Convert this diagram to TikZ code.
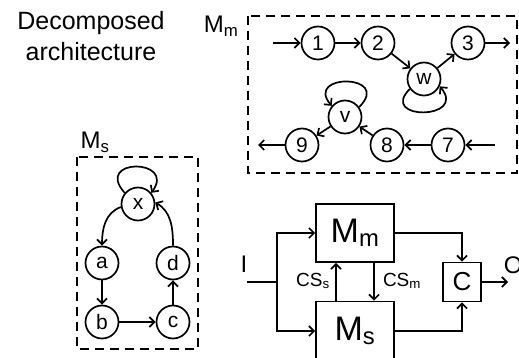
\documentclass[tikz,border=0pt]{standalone}
\usepackage{fontspec}
\setmainfont{Liberation Sans}
\usetikzlibrary{arrows.meta}
\begin{document}
\begin{tikzpicture}[x=1pt,y=1pt,
  line width=1.7pt,
  >={Straight Barb[length=5pt,width=10pt]},
  st/.style={circle,draw,minimum size=33pt,inner sep=0pt,font=\fontsize{21}{21}\selectfont},
  blk/.style={draw,inner sep=0pt},
  dbox/.style={draw,dash pattern=on 9pt off 6pt},
  lab/.style={font=\fontsize{24}{30}\selectfont,inner sep=0pt},
  cs/.style={font=\fontsize{19}{20}\selectfont,inner sep=0pt}]
\useasboundingbox (0,0) rectangle (519,-358);
% title
\node[lab,align=center,font=\fontsize{25}{31}\selectfont] (title) at (91,-36) {Decomposed\\architecture};
% Mm dashed module
\draw[dbox] (248,-16) rectangle (517,-173);
\node[lab] (MmL) at (221,-26) {M\textsubscript{m}};
\node[st] (n1) at (318,-43) {1};
\node[st] (n2) at (378,-43) {2};
\node[st] (w) at (424,-79) {w};
\node[st] (n3) at (468,-43) {3};
\node[st] (v) at (345,-117) {v};
\node[st] (n9) at (302,-145) {9};
\node[st] (n8) at (387,-145) {8};
\node[st] (n7) at (448,-145) {7};
\coordinate (in1) at (273,-43);
\coordinate (out3) at (510,-43);
\coordinate (in7) at (495,-145);
\coordinate (out9) at (258,-145);
\draw[->] (in1) -- (n1);
\draw[->] (n1) -- (n2);
\draw[->] (n2) -- (w);
\draw[->] (w) -- (n3);
\draw[->] (n3) -- (out3);
\draw[->] (in7) -- (n7);
\draw[->] (n7) -- (n8);
\draw[->] (n8) -- (v);
\draw[->] (v) -- (n9);
\draw[->] (n9) -- (out9);
\draw[->] (w.215) .. controls +(225:45) and +(-50:44) .. (w.-25);
\draw[->] (v.35) .. controls +(45:47) and +(130:43) .. (v.140);
% Ms dashed module
\draw[dbox] (77,-157) rectangle (198,-349);
\node[lab] (MsL) at (95,-142) {M\textsubscript{s}};
\node[st] (x) at (138,-204) {x};
\node[st] (a) at (102,-263) {a};
\node[st] (d) at (173,-263) {d};
\node[st] (b) at (102,-322) {b};
\node[st] (c) at (173,-322) {c};
\draw[->] (x.140) .. controls +(132:47) and +(54:43) .. (x.40);
\draw[->] (x.190) to[out=200,in=90] (a.north);
\draw[->] (d.north) to[out=90,in=-30] (x.5);
\draw[->] (a) -- (b);
\draw[->] (b) -- (c);
\draw[->] (c) -- (d);
% block diagram
\node[blk,minimum width=78pt,minimum height=58pt,font=\fontsize{34}{34}\selectfont] (Mm) at (355,-233) {M\textsubscript{m}};
\node[blk,minimum width=78pt,minimum height=59pt,font=\fontsize{34}{34}\selectfont] (Ms) at (355,-331) {M\textsubscript{s}};
\node[blk,minimum width=38pt,minimum height=39pt,font=\fontsize{26}{26}\selectfont] (C) at (462,-282) {C};
\node[lab] (I) at (244,-264) {I};
\node[lab,anchor=west] (O) at (503,-265) {O};
\coordinate (Iin) at (247,-282);
\coordinate (J) at (277,-282);
\coordinate (Oend) at (508,-282);
\coordinate (csA) at (336,-282);
\coordinate (csB) at (374,-282);
\draw (Iin) -- (J);
\draw[->] (J) |- (Mm.west);
\draw[->] (J) |- (Ms.west);
\draw[->] (Mm.east) -| (C.north);
\draw[->] (Ms.east) -| (C.south);
\draw[->] (C.east) -- (Oend);
\draw[->] (csA |- Ms.north) -- (csA |- Mm.south);
\draw[->] (csB |- Mm.south) -- (csB |- Ms.north);
\node[cs] (CSs) at (313,-281) {CS\textsubscript{s}};
\node[cs] (CSm) at (402,-281) {CS\textsubscript{m}};
\end{tikzpicture}
\end{document}
